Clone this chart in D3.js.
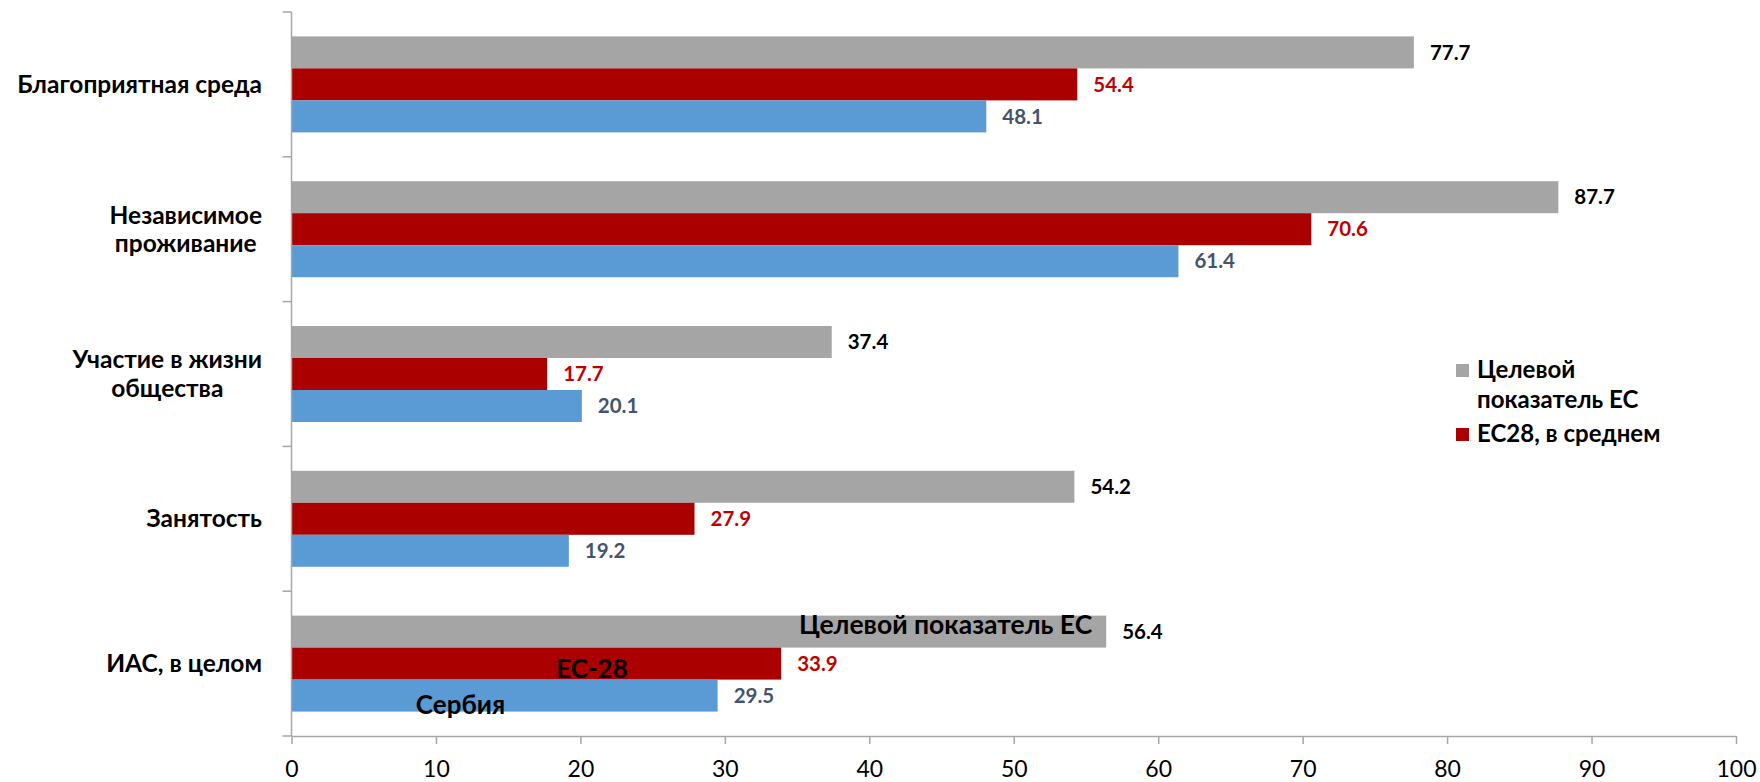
<!DOCTYPE html>
<html>
<head>
<meta charset="utf-8">
<script src="https://cdn.jsdelivr.net/npm/d3@7"></script>
<style>
body { margin: 0; background: #fff; }
text { font-family: Lato, "Open Sans", sans-serif; }
</style>
</head>
<body>
<script>
var categories = ['Благоприятная среда', 'Независимое проживание', 'Участие в жизни общества', 'Занятость', 'ИАС, в целом'];
var catLines = [['Благоприятная среда'], ['Независимое', 'проживание'], ['Участие в жизни', 'общества'], ['Занятость'], ['ИАС, в целом']];
var seriesNames = ['Целевой показатель ЕС', 'ЕС28, в среднем', 'Сербия'];
var target = [77.7, 87.7, 37.4, 54.2, 56.4];
var eu28 = [54.4, 70.6, 17.7, 27.9, 33.9];
var serbia = [48.1, 61.4, 20.1, 19.2, 29.5];
var xTicks = [0, 10, 20, 30, 40, 50, 60, 70, 80, 90, 100];

var barColors = ['#a5a5a5', '#aa0000', '#5b9bd5'];
var labelColors = ['#000000', '#c00000', '#44546a'];
var values = [target, eu28, serbia];

var W = 1760, H = 782;
var svg = d3.select('body').append('svg').attr('width', W).attr('height', H);

var x = d3.scaleLinear().domain([0, 100]).range([291.5, 1736]);
var y = d3.scaleBand().domain(categories).range([12, 736]).paddingInner(0.337).paddingOuter(0.1685);
var y1 = d3.scaleBand().domain(seriesNames).range([0, y.bandwidth()]);

/* bars + value labels */
var grp = svg.append('g');
seriesNames.forEach(function(s, si) {
	grp.selectAll('rect.s' + si).data(categories).enter().append('rect')
		.attr('x', x(0))
		.attr('y', function(d) { return y(d) + y1(s); })
		.attr('width', function(d, i) { return x(values[si][i]) - x(0); })
		.attr('height', y1.bandwidth())
		.attr('fill', barColors[si]);
	grp.selectAll('text.s' + si).data(categories).enter().append('text')
		.attr('x', function(d, i) { return x(values[si][i]) + 16; })
		.attr('y', function(d) { return y(d) + y1(s) + y1.bandwidth() / 2; })
		.attr('dy', '0.35em')
		.style('font-size', '20.5px').style('font-weight', 'bold')
		.attr('fill', labelColors[si])
		.text(function(d, i) { return values[si][i].toFixed(1); });
});

/* x axis */
var xAxis = svg.append('g').attr('transform', 'translate(0,736)')
	.call(d3.axisBottom(x).tickValues(xTicks).tickSize(8).tickPadding(17).tickSizeOuter(0));
xAxis.select('.domain').attr('stroke', '#a6a6a6').attr('stroke-width', 1.5);
xAxis.selectAll('.tick line').attr('stroke', '#a6a6a6').attr('stroke-width', 1.5);
xAxis.selectAll('.tick text').style('font-size', '23px').style('font-family', 'Lato, "Open Sans", sans-serif').attr('fill', '#000');

/* category axis: line with ticks on band edges */
var x0 = x(0);
svg.append('line').attr('x1', x0).attr('y1', 12).attr('x2', x0).attr('y2', 736).style('stroke', '#a6a6a6').style('stroke-width', 1.5);
for (var i = 0; i <= categories.length; i++) {
	var ty = 12 + i * y.step();
	svg.append('line').attr('x1', x0 - 9).attr('y1', ty).attr('x2', x0).attr('y2', ty).style('stroke', '#a6a6a6').style('stroke-width', 1.5);
}

/* category labels */
catLines.forEach(function(lines, ci) {
	var cy = y(categories[ci]) + y.bandwidth() / 2;
	var t = svg.append('text').style('font-size', '24.5px').style('font-weight', 'bold').attr('fill', '#000');
	var lh = 28.5;
	var spans = lines.map(function(l, li) {
		return t.append('tspan').attr('y', cy + (li - (lines.length - 1) / 2) * lh).attr('dy', '0.35em').text(l);
	});
	var maxW = d3.max(spans, function(s) { return s.node().getComputedTextLength(); });
	var cx = 262 - maxW / 2;
	t.attr('text-anchor', 'middle');
	spans.forEach(function(s) { s.attr('x', cx); });
});

/* legend */
var leg = svg.append('g').attr('transform', 'translate(1456,0)');
var legItems = [{c: barColors[0], lines: ['Целевой', 'показатель ЕС'], y: 378}, {c: barColors[1], lines: ['ЕС28, в среднем'], y: 442}];
legItems.forEach(function(it) {
	leg.append('rect').attr('x', 0).attr('y', it.y - 14).attr('width', 13).attr('height', 13).attr('fill', it.c);
	it.lines.forEach(function(l, li) {
		leg.append('text').attr('x', 21).attr('y', it.y + li * 30)
			.style('font-size', '24px').style('font-weight', 'bold').attr('fill', '#000').text(l);
	});
});

/* annotations inside the last group */
var last = categories[4];
svg.append('text').attr('x', x(target[4]) - 14).attr('y', y(last) + y1(seriesNames[0]) + 18.5)
	.attr('text-anchor', 'end').style('font-size', '26.5px').style('font-weight', 'bold').attr('fill', '#000')
	.text('Целевой показатель ЕС');
svg.append('text').attr('x', x(20.8)).attr('y', y(last) + y1(seriesNames[1]) + y1.bandwidth() - 1.5)
	.attr('text-anchor', 'middle').style('font-size', '26px').style('font-weight', 'bold').attr('fill', '#000')
	.text('ЕС-28');
svg.append('text').attr('x', x(11.7)).attr('y', y(last) + y1(seriesNames[2]) + y1.bandwidth() + 2.5)
	.attr('text-anchor', 'middle').style('font-size', '26px').style('font-weight', 'bold').attr('fill', '#000')
	.text('Сербия');
</script>
</body>
</html>
